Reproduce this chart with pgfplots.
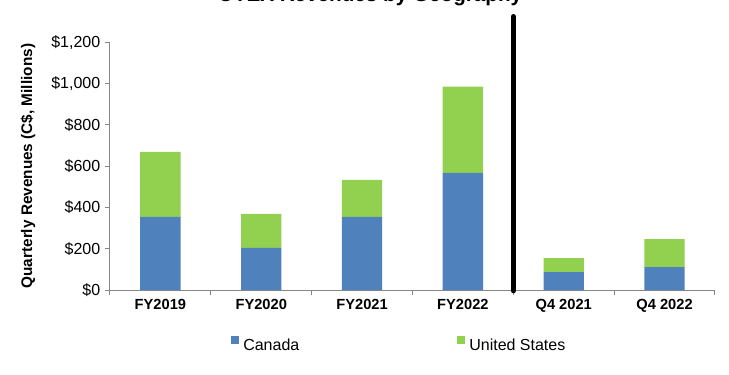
\documentclass[border=0pt]{standalone}
\usepackage{fontspec}
\setmainfont{Liberation Sans}
\usepackage{pgfplots}
\pgfplotsset{compat=1.18}
\definecolor{cblue}{HTML}{4F81BD}
\definecolor{cgreen}{HTML}{92D050}
\definecolor{axgray}{HTML}{868686}
\begin{document}
\begin{tikzpicture}
\begin{axis}[
  at={(0,0)}, anchor=south west,
  scale only axis, width=453.75pt, height=185.8pt,
  ybar stacked, bar width=0.4,
  xmin=-0.5, xmax=5.5, ymin=0, ymax=1200,
  xtick={0,...,5},
  xticklabels={FY2019,FY2020,FY2021,FY2022,Q4 2021,Q4 2022},
  minor xtick={-0.5,0.5,...,5.5},
  ytick={0,200,...,1200},
  axis x line*=bottom, axis y line*=left,
  axis line style={draw=axgray, line width=0.75pt, -},
  tick align=outside,
  major tick length=3.75pt, minor tick length=3.75pt,
  tick style={draw=axgray, line width=0.75pt},
  major x tick style={draw=none},
  yticklabel={\$\pgfmathprintnumber{\tick}},
  /pgf/number format/.cd, 1000 sep={,}, assume math mode=true,
  /pgfplots/.cd,
  yticklabel style={font=\fontsize{12}{14}\selectfont, text=black},
  xticklabel style={font=\bfseries\fontsize{11}{13}\selectfont, text=black},
  ylabel={Quarterly Revenues (C\$, Millions)},
  ylabel style={at={(axis description cs:-0.1355,0.5)}, anchor=center, font=\bfseries\fontsize{11.5}{13}\selectfont},
  clip=false,
  area legend,
  legend image code/.code={\fill[#1] (0pt,0.75pt) rectangle (6pt,6.75pt);},
  legend style={at={(axis description cs:0.2,-0.2185)}, anchor=west, draw=none, fill=none,
    inner sep=0pt, legend columns=2, font=\fontsize{12}{14}\selectfont,
    nodes={inner sep=0pt},
    /tikz/every odd column/.append style={column sep=3pt},
    /tikz/every even column/.append style={column sep=118.5pt}},
]
\addplot[fill=cblue, draw=none] coordinates {(0,354) (1,204) (2,354) (3,567) (4,87) (5,111)};
\addplot[fill=cgreen, draw=none] coordinates {(0,315) (1,165) (2,179) (3,418) (4,68) (5,136)};
\legend{Canada, United States}
\draw[black, line width=3.75pt, line cap=round] (axis cs:3.5,-4) -- (axis cs:3.5,1325);
\end{axis}
\node[anchor=base, font=\bfseries\fontsize{15.5}{18}\selectfont] at (195pt,216pt) {OTEX Revenues by Geography};
\pgfresetboundingbox
\useasboundingbox (-82.5pt,-63.75pt) rectangle (464.25pt,217.5pt);
\end{tikzpicture}
\end{document}
